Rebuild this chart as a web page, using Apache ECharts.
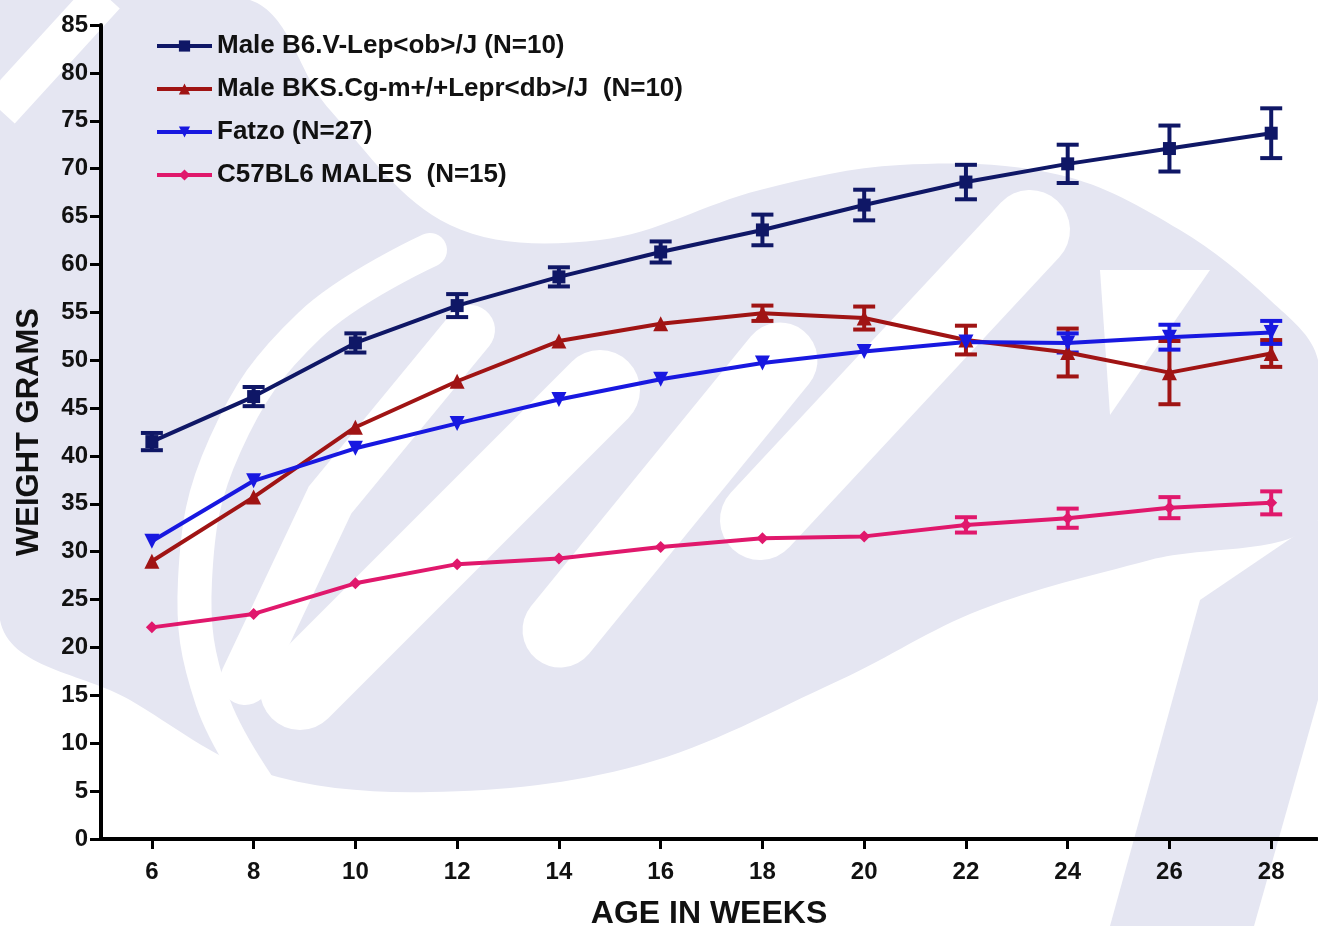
<!DOCTYPE html>
<html>
<head>
<meta charset="utf-8">
<title>Body weight by age</title>
<script src="https://cdn.jsdelivr.net/npm/echarts@6/dist/echarts.min.js"></script>
<style>
  html, body { margin: 0; padding: 0; background: #ffffff; }
  #chart { width: 1318px; height: 926px; }
</style>
</head>
<body>
<div id="chart"></div>
<script>
// Age in weeks (x positions)
var weeks = [6, 8, 10, 12, 14, 16, 18, 20, 22, 24, 26, 28];

// Mean body weight (g) and SEM per strain
var obName = 'Male B6.V-Lep<ob>/J (N=10)';
var obMean = [41.5, 46.2, 51.8, 55.7, 58.7, 61.3, 63.6, 66.2, 68.6, 70.5, 72.1, 73.7];
var obSem  = [0.9, 1.0, 1.0, 1.2, 1.0, 1.1, 1.6, 1.6, 1.8, 2.0, 2.4, 2.6];

var dbName = 'Male BKS.Cg-m+/+Lepr<db>/J  (N=10)';
var dbMean = [29.0, 35.7, 43.0, 47.8, 52.0, 53.8, 54.9, 54.4, 52.1, 50.8, 48.7, 50.7];
var dbSem  = [0.4, 0.4, 0.4, 0.4, 0.4, 0.5, 0.8, 1.2, 1.5, 2.5, 3.3, 1.4];

var fatzoName = 'Fatzo (N=27)';
var fatzoMean = [31.1, 37.4, 40.8, 43.4, 45.9, 48.0, 49.7, 50.9, 51.9, 51.8, 52.4, 52.9];
var fatzoSem  = [0.3, 0.3, 0.3, 0.3, 0.3, 0.3, 0.3, 0.4, 0.5, 1.0, 1.3, 1.2];

var b6Name = 'C57BL6 MALES  (N=15)';
var b6Mean = [22.1, 23.5, 26.7, 28.7, 29.3, 30.5, 31.4, 31.6, 32.8, 33.5, 34.6, 35.1];
var b6Sem  = [0.2, 0.2, 0.3, 0.3, 0.3, 0.3, 0.3, 0.4, 0.8, 1.0, 1.1, 1.2];

var COLORS = { ob: '#0f1766', db: '#a01414', fatzo: '#1818e0', b6: '#e0186c' };
var FONT = 'Liberation Sans, Arial, sans-serif';

function pairs(xs, ys) { return xs.map(function (x, i) { return [x, ys[i]]; }); }
function triples(xs, ys, es) { return xs.map(function (x, i) { return [x, ys[i], es[i]]; }); }

// Error bar: vertical stem with horizontal caps; bars shorter than the
// symbol are hidden behind it, so they are skipped.
function errorBars(color) {
  return function (params, api) {
    var x = api.value(0), y = api.value(1), e = api.value(2);
    var hi = api.coord([x, y + e]);
    var lo = api.coord([x, y - e]);
    if (Math.abs(lo[1] - hi[1]) / 2 < 6.5) return null;
    var hw = 11;
    var st = { stroke: color, lineWidth: 4 };
    return {
      type: 'group',
      children: [
        { type: 'line', shape: { x1: hi[0], y1: hi[1], x2: lo[0], y2: lo[1] }, style: st },
        { type: 'line', shape: { x1: hi[0] - hw, y1: hi[1], x2: hi[0] + hw, y2: hi[1] }, style: st },
        { type: 'line', shape: { x1: lo[0] - hw, y1: lo[1], x2: lo[0] + hw, y2: lo[1] }, style: st }
      ]
    };
  };
}

function lineSeries(name, xs, ys, color, symbol, size, rotate) {
  return {
    name: name, type: 'line', data: pairs(xs, ys),
    symbol: symbol, symbolSize: size, symbolRotate: rotate || 0,
    showAllSymbol: true,
    lineStyle: { color: color, width: 4 },
    itemStyle: { color: color },
    emphasis: { disabled: true },
    z: 3
  };
}
function errSeries(name, xs, ys, es, color) {
  return {
    name: name, type: 'custom', data: triples(xs, ys, es),
    renderItem: errorBars(color), encode: { x: 0, y: 1 }, z: 3, silent: true
  };
}

// Light watermark shapes behind the plot
var LAV = '#e5e6f2';
var watermark = [
  { type: 'polygon', z: -5, silent: true,
    shape: { smooth: 0.35, points: [
      [0, 0], [250, 0], [330, 110], [450, 225], [600, 240], [760, 190], [900, 165],
      [1060, 175], [1180, 230], [1270, 300], [1318, 360], [1318, 520],
      [1150, 560], [980, 610], [840, 680], [640, 765], [430, 792], [260, 772], [130, 700], [0, 620]
    ] },
    style: { fill: LAV } },
  { type: 'polygon', z: -5, silent: true,
    shape: { points: [[1200, 600], [1318, 520], [1318, 700], [1254, 926], [1110, 926]] },
    style: { fill: LAV } },
  { type: 'polyline', z: -4, silent: true,
    shape: { smooth: 0.4, points: [[430, 250], [310, 325], [225, 445], [195, 580], [212, 700], [268, 800]] },
    style: { stroke: '#ffffff', lineWidth: 34, fill: null, lineCap: 'round' } },
  { type: 'polyline', z: -4, silent: true,
    shape: { points: [[470, 330], [330, 500], [245, 680]] },
    style: { stroke: '#ffffff', lineWidth: 50, fill: null, lineCap: 'round' } },
  { type: 'polyline', z: -4, silent: true,
    shape: { points: [[600, 390], [470, 520], [300, 690]] },
    style: { stroke: '#ffffff', lineWidth: 80, fill: null, lineCap: 'round' } },
  { type: 'polyline', z: -4, silent: true,
    shape: { points: [[780, 360], [560, 630]] },
    style: { stroke: '#ffffff', lineWidth: 75, fill: null, lineCap: 'round' } },
  { type: 'polyline', z: -4, silent: true,
    shape: { points: [[1030, 230], [760, 520]] },
    style: { stroke: '#ffffff', lineWidth: 80, fill: null, lineCap: 'round' } },
  { type: 'polygon', z: -4, silent: true,
    shape: { points: [[1100, 270], [1210, 270], [1110, 415]] },
    style: { fill: '#ffffff' } },
  { type: 'polyline', z: -4, silent: true,
    shape: { points: [[0, 110], [105, -5]] },
    style: { stroke: '#ffffff', lineWidth: 40, fill: null } }
];

var chart = echarts.init(document.getElementById('chart'));
chart.setOption({
  backgroundColor: '#ffffff',
  animation: false,
  graphic: { elements: watermark },
  textStyle: { fontFamily: FONT },
  grid: { left: 101, right: 1, top: 25, bottom: 87, containLabel: false, outerBoundsMode: 'none' },
  legend: {
    data: [obName, dbName, fatzoName, b6Name],
    orient: 'vertical', left: 155, top: 33, padding: 0,
    itemWidth: 55, itemHeight: 14, itemGap: 17, itemTextGap: 8,
    lineStyle: { width: 4 },
    textStyle: { fontFamily: FONT, fontWeight: 'bold', fontSize: 26, lineHeight: 26, color: '#111' },
    selectedMode: false
  },
  xAxis: {
    type: 'value', min: 5, max: 28.9,
    name: 'AGE IN WEEKS', nameLocation: 'middle', nameGap: 59,
    nameTextStyle: { fontFamily: FONT, fontWeight: 'bold', fontSize: 32, color: '#111' },
    axisLine: { lineStyle: { color: '#000', width: 4 } },
    axisTick: { customValues: weeks, length: 10, lineStyle: { color: '#000', width: 3 } },
    axisLabel: { customValues: weeks, margin: 21, fontFamily: FONT, fontWeight: 'bold', fontSize: 24, color: '#111' },
    splitLine: { show: false }
  },
  yAxis: {
    type: 'value', min: 0, max: 85, interval: 5,
    name: 'WEIGHT GRAMS', nameLocation: 'middle', nameGap: 56,
    nameTextStyle: { fontFamily: FONT, fontWeight: 'bold', fontSize: 31, color: '#111' },
    axisLine: { show: true, lineStyle: { color: '#000', width: 4 } },
    axisTick: { show: true, length: 11, lineStyle: { color: '#000', width: 3 } },
    axisLabel: { margin: 13, fontFamily: FONT, fontWeight: 'bold', fontSize: 24, color: '#111' },
    splitLine: { show: false }
  },
  series: [
    lineSeries(b6Name, weeks, b6Mean, COLORS.b6, 'diamond', 12),
    errSeries('b6 sem', weeks, b6Mean, b6Sem, COLORS.b6),
    lineSeries(dbName, weeks, dbMean, COLORS.db, 'triangle', 15),
    errSeries('db sem', weeks, dbMean, dbSem, COLORS.db),
    lineSeries(fatzoName, weeks, fatzoMean, COLORS.fatzo, 'triangle', 15, 180),
    errSeries('fatzo sem', weeks, fatzoMean, fatzoSem, COLORS.fatzo),
    lineSeries(obName, weeks, obMean, COLORS.ob, 'rect', 13),
    errSeries('ob sem', weeks, obMean, obSem, COLORS.ob)
  ]
});
</script>
</body>
</html>
